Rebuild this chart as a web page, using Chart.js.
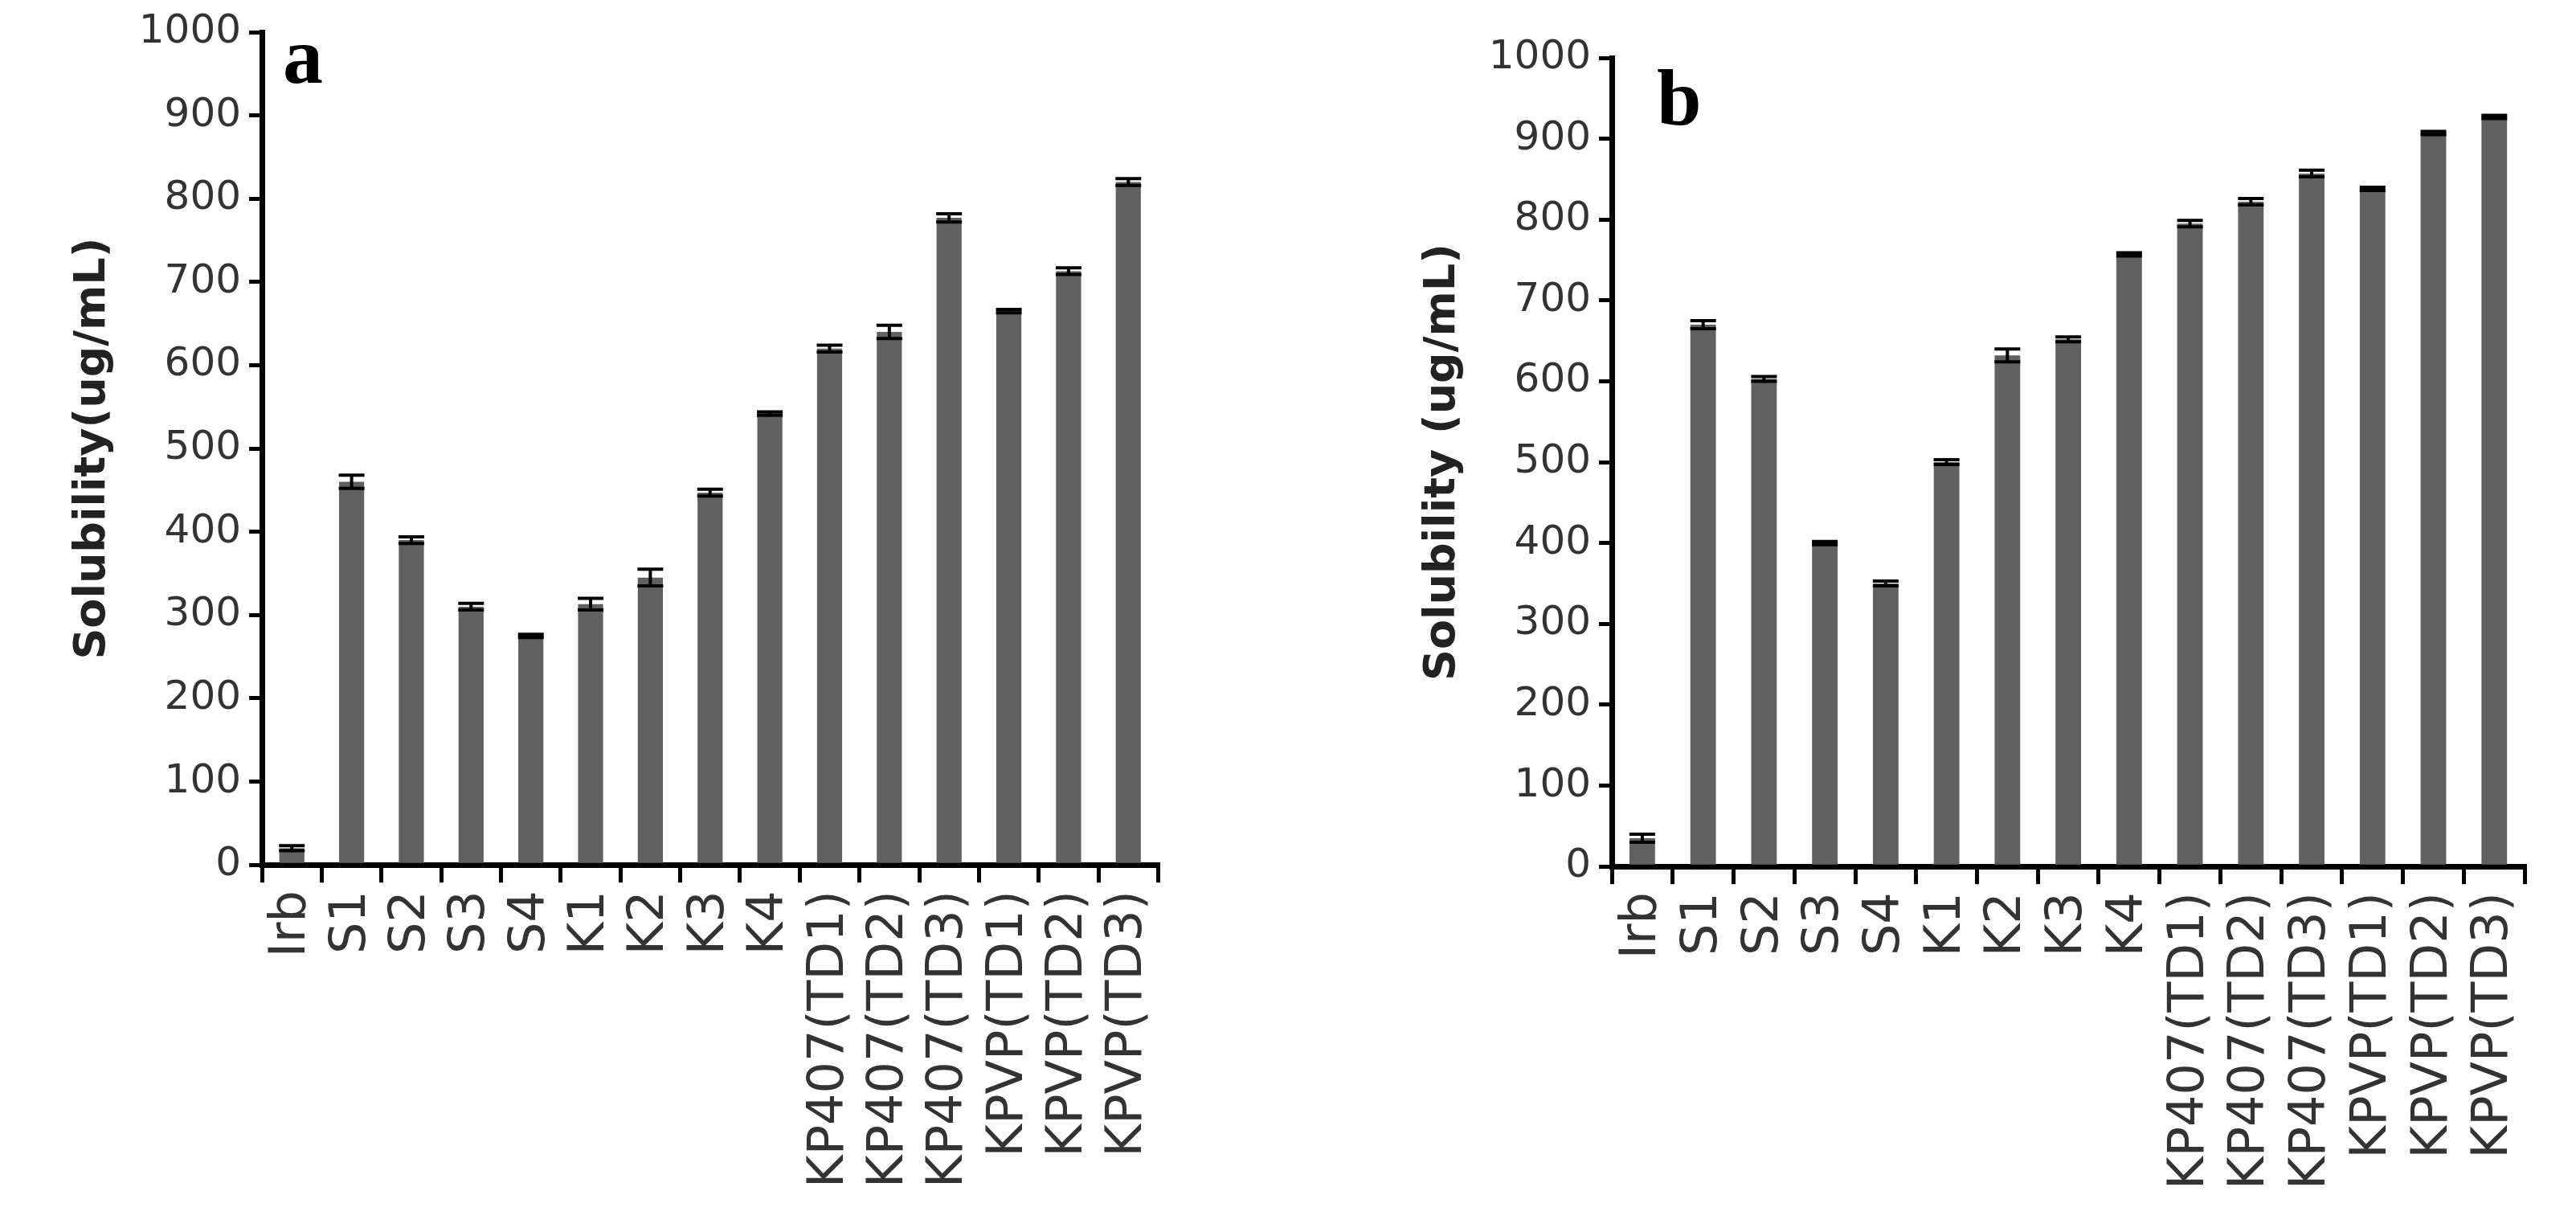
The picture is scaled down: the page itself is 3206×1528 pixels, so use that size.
<!DOCTYPE html>
<html><head><meta charset="utf-8">
<script src="https://cdn.jsdelivr.net/npm/chart.js@4"></script>
<style>
body{margin:0;background:#fff;width:3206px;height:1528px;position:relative;overflow:hidden}
.c{position:absolute;top:0}
.lab{position:absolute;font-family:"Liberation Serif";font-weight:bold;font-size:100px;color:#000;line-height:1}
</style></head><body>
<div class="c" style="left:0;width:1490px;height:1528px"><canvas id="ca"></canvas></div>
<div class="c" style="left:1690px;width:1500px;height:1500px"><canvas id="cb"></canvas></div>
<div class="lab" style="left:352px;top:20px">a</div>
<div class="lab" style="left:2062px;top:72px">b</div>
<script>
const categories=["Irb","S1","S2","S3","S4","K1","K2","K3","K4","KP407(TD1)","KP407(TD2)","KP407(TD3)","KPVP(TD1)","KPVP(TD2)","KPVP(TD3)"];
const valuesA=[20,460,390,310,275,313,345,447,542,620,640,777,665,713,820];
const errorsA=[3,8,4,4,2,7,10,4,2,4,8,5,2,4,4];
const valuesB=[35,670,603,400,350,500,632,652,757,795,822,857,838,907,927];
const errorsB=[5,5,3,2,3,3,8,3,2,4,4,4,2,2,2];
const yTicks=[0,100,200,300,400,500,600,700,800,900,1000];

const errPlugin={id:'err',afterDatasetsDraw(chart){
  const ctx=chart.ctx,meta=chart.getDatasetMeta(0),y=chart.scales.y,errs=chart.options.plugins.err.errors;
  const vals=chart.data.datasets[0].data;
  ctx.save();ctx.strokeStyle='#000';ctx.lineWidth=4;
  meta.data.forEach((b,i)=>{const x=b.x,hi=y.getPixelForValue(vals[i]+errs[i]),lo=y.getPixelForValue(vals[i]-errs[i]);
    ctx.beginPath();ctx.moveTo(x,hi);ctx.lineTo(x,lo);ctx.moveTo(x-16,hi);ctx.lineTo(x+16,hi);ctx.moveTo(x-16,lo);ctx.lineTo(x+16,lo);ctx.stroke();});
  ctx.restore();}};

function make(id,vals,errs,title,pad){
  new Chart(document.getElementById(id),{type:'bar',
    data:{labels:categories,datasets:[{data:vals,backgroundColor:'#606060',barPercentage:0.42,categoryPercentage:1}]},
    options:{responsive:true,maintainAspectRatio:false,animation:false,
      layout:{padding:pad},
      plugins:{legend:{display:false},tooltip:{enabled:false},err:{errors:errs}},
      scales:{
        x:{grid:{drawOnChartArea:false,drawTicks:true,tickLength:22,color:'#000',lineWidth:5},
           border:{color:'#000',width:7},
           ticks:{minRotation:90,maxRotation:90,autoSkip:false,color:'#333',font:{family:'DejaVu Sans',size:62},padding:10}},
        y:{min:0,max:1000,afterBuildTicks:s=>{s.ticks=yTicks.map(v=>({value:v}));},
           grid:{drawOnChartArea:false,drawTicks:true,tickLength:16,color:'#000',lineWidth:5},
           border:{color:'#000',width:7},
           ticks:{color:'#333',font:{family:'DejaVu Sans',size:50},padding:10,callback:v=>String(v)},
           title:{display:true,text:title,color:'#222',font:{family:'DejaVu Sans',weight:'bold',size:54},padding:14}}
      }},plugins:[errPlugin]});
}
make('ca',valuesA,errorsA,'Solubility(ug/mL)',{top:20,right:40,left:70,bottom:40});
make('cb',valuesB,errorsB,'Solubility (ug/mL)',{top:72,right:40,left:60,bottom:10});
</script></body></html>
